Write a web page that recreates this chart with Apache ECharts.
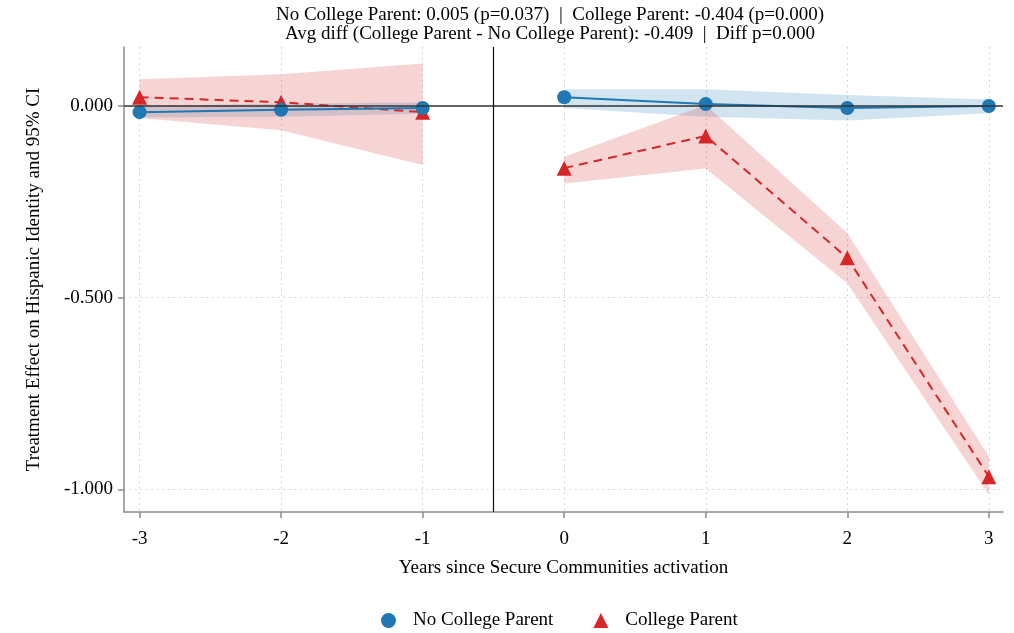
<!DOCTYPE html>
<html>
<head>
<meta charset="utf-8">
<script src="https://cdn.jsdelivr.net/npm/echarts@6/dist/echarts.min.js"></script>
<style>html,body{margin:0;padding:0;background:#fff;}#c{width:1014px;height:633px;}</style>
</head>
<body>
<div id="c"></div>
<script>
const years = [-3, -2, -1, 0, 1, 2, 3];
const xTicks = [-3, -2, -1, 0, 1, 2, 3];
const yTicks = [-1.0, -0.5, 0.0];
const noCollege = [-0.016, -0.010, -0.005, 0.023, 0.005, -0.005, 0.000];
const noCollegeLo = [-0.030, -0.028, -0.020, -0.005, -0.028, -0.038, -0.019];
const noCollegeHi = [0.000, 0.006, 0.010, 0.044, 0.044, 0.029, 0.017];
const college = [0.023, 0.010, -0.016, -0.162, -0.078, -0.396, -0.967];
const collegeLo = [-0.031, -0.063, -0.154, -0.202, -0.163, -0.462, -1.014];
const collegeHi = [0.070, 0.083, 0.111, -0.132, 0.003, -0.331, -0.914];
const eventLine = -0.5;
const titleLines = [
  'No College Parent: 0.005 (p=0.037)  |  College Parent: -0.404 (p=0.000)',
  'Avg diff (College Parent - No College Parent): -0.409  |  Diff p=0.000'
];

const BLUE = '#1f77b4', RED = '#d62728';
const FONT = '"Liberation Serif", "Times New Roman", serif';

function lineData(vals) {
  const out = [];
  years.forEach((x, i) => {
    if (i > 0 && years[i - 1] < eventLine && x > eventLine) out.push([eventLine, '-']);
    out.push([x, vals[i]]);
  });
  return out;
}
function bandSeries(lo, hi, color, pre) {
  const idx = years.map((x, i) => i).filter(i => pre ? years[i] < eventLine : years[i] > eventLine);
  return {
    type: 'custom', silent: true, z: 1,
    data: [0],
    renderItem: function (params, api) {
      const pts = [];
      idx.forEach(i => pts.push(api.coord([years[i], hi[i]])));
      idx.slice().reverse().forEach(i => pts.push(api.coord([years[i], lo[i]])));
      return { type: 'polygon', shape: { points: pts }, style: { fill: color, opacity: 0.2 } };
    }
  };
}

const chart = echarts.init(document.getElementById('c'));
chart.setOption({
  animation: false,
  textStyle: { fontFamily: FONT },
  title: {
    text: titleLines.join('\n'),
    left: 550, top: 6, textAlign: 'center', padding: 0,
    textStyle: { fontFamily: FONT, fontSize: 19, fontWeight: 'normal', color: '#000', lineHeight: 19 }
  },
  grid: { left: 124, right: 11, top: 47, bottom: 121 },
  legend: {
    top: 611, left: 381, itemGap: 40, itemWidth: 15, itemHeight: 15, padding: 0,
    textStyle: { fontFamily: FONT, fontSize: 19, color: '#000', padding: [0, 0, 0, 12] },
    data: [{ name: 'No College Parent', icon: 'circle' }, { name: 'College Parent', icon: 'triangle' }]
  },
  xAxis: {
    type: 'value', min: -3.11, max: 3.10,
    name: 'Years since Secure Communities activation', nameLocation: 'middle', nameGap: 47,
    nameTextStyle: { fontFamily: FONT, fontSize: 19, color: '#000' },
    axisLine: { onZero: false, lineStyle: { color: '#8c8c8c', width: 1.5 } },
    axisTick: { show: true, length: 6, customValues: xTicks, lineStyle: { color: '#8c8c8c', width: 1.5 } },
    axisLabel: { customValues: xTicks, margin: 18, fontFamily: FONT, fontSize: 19, color: '#000' },
    splitLine: { show: true, lineStyle: { color: '#c8c8c8', type: [1.5, 4], width: 1 } }
  },
  yAxis: {
    type: 'value', min: -1.059, max: 0.154,
    name: 'Treatment Effect on Hispanic Identity and 95% CI', nameLocation: 'middle', nameGap: 80,
    nameTextStyle: { fontFamily: FONT, fontSize: 19, color: '#000' },
    axisLine: { show: true, onZero: false, lineStyle: { color: '#8c8c8c', width: 1.5 } },
    axisTick: { show: true, length: 6, customValues: yTicks, lineStyle: { color: '#8c8c8c', width: 1.5 } },
    axisLabel: { customValues: yTicks, margin: 11, fontFamily: FONT, fontSize: 19, color: '#000',
      formatter: v => v.toFixed(3) },
    splitLine: { show: true, lineStyle: { color: '#c8c8c8', type: [1.5, 4], width: 1 } }
  },
  series: [
    bandSeries(noCollegeLo, noCollegeHi, BLUE, true),
    bandSeries(noCollegeLo, noCollegeHi, BLUE, false),
    bandSeries(collegeLo, collegeHi, RED, true),
    bandSeries(collegeLo, collegeHi, RED, false),
    {
      type: 'line', name: 'refs', data: [], silent: true, z: 2,
      markLine: {
        silent: true, symbol: 'none', label: { show: false },
        data: [
          { yAxis: 0, lineStyle: { color: '#333', width: 1.5, type: 'solid' } },
          { xAxis: eventLine, lineStyle: { color: '#111', width: 1.2, type: 'solid' } }
        ]
      }
    },
    {
      type: 'line', name: 'No College Parent', data: lineData(noCollege), z: 4,
      symbol: 'circle', symbolSize: 14, connectNulls: false,
      itemStyle: { color: BLUE }, lineStyle: { color: BLUE, width: 2 }
    },
    {
      type: 'line', name: 'College Parent', data: lineData(college), z: 3,
      symbol: 'triangle', symbolSize: 15, connectNulls: false,
      itemStyle: { color: RED }, lineStyle: { color: RED, width: 2, type: [9, 6] }
    }
  ]
});
</script>
</body>
</html>
